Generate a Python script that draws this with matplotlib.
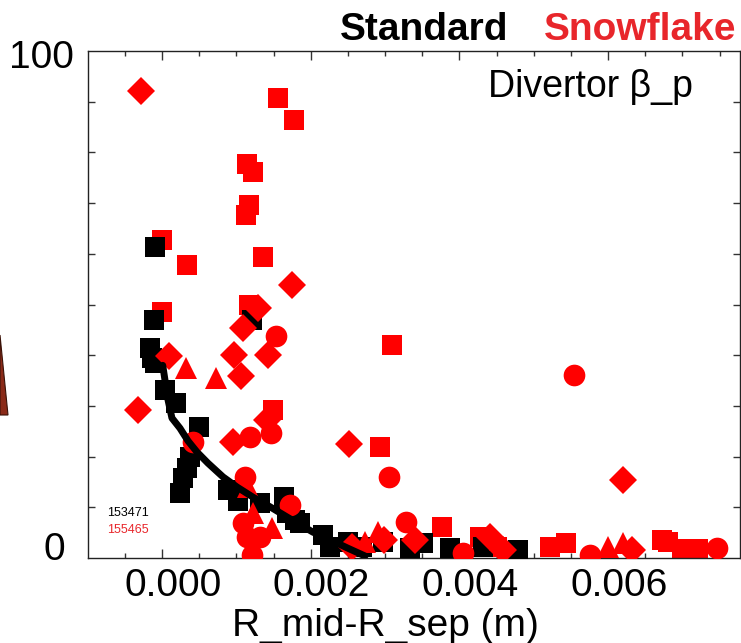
import numpy as np
import matplotlib
matplotlib.use('Agg')
import matplotlib.pyplot as plt
import matplotlib.transforms as mtransforms
from matplotlib.ticker import MultipleLocator, FixedLocator
from matplotlib.patches import Polygon

plt.rcParams['font.family'] = ['Liberation Sans', 'DejaVu Sans']

# Standard divertor (shot 153471)
std_x = [-0.000094, -0.000108, -0.000161, -0.000134, -0.000094, 0.00004, 0.000188, 0.000498,
         0.000377, 0.000336, 0.000282, 0.000242, 0.000888, 0.001022, 0.001318, 0.00121,
         0.00164, 0.00168, 0.00179, 0.001856, 0.002165, 0.00226, 0.0025, 0.00269, 0.00297,
         0.00334, 0.00351, 0.00387, 0.00432, 0.00479]
std_y = [61.3, 46.9, 41.4, 39.4, 38.5, 33.1, 30.6, 25.8,
         19.9, 17.8, 15.8, 12.8, 13.4, 11.2, 10.8, 46.9,
         12.0, 8.9, 7.5, 6.9, 4.5, 2.2, 3.2, 2.2, 3.2,
         2.0, 3.0, 2.0, 2.2, 1.6]

# fit through the standard points
fit_x = [0.00001, 0.000081, 0.000134, 0.000242, 0.00035, 0.000471, 0.000619, 0.00082, 0.001009,
         0.001224, 0.001453, 0.00168, 0.00203, 0.00226, 0.00249, 0.00273]
fit_y = [38.0, 31.2, 27.6, 25.6, 23.1, 20.9, 18.7, 16.0, 14.0,
         12.0, 10.1, 8.1, 5.1, 3.6, 2.0, 0.4]

# Snowflake divertor (shot 155465), one marker per time slice group
sf_sq_x = [0.00156, 0.001775, 0.001143, 0.001224, 0.00117, 0.00113, 0.0, 0.000336, 0.001358,
           0.0, 0.00117, 0.00309, 0.00149, 0.00293, 0.003766, 0.00428, 0.0045, 0.00522,
           0.00543, 0.00672, 0.0068, 0.007, 0.00721]
sf_sq_y = [90.7, 86.4, 77.7, 76.1, 69.6, 67.7, 62.7, 57.8, 59.4,
           48.5, 49.9, 42.0, 29.2, 21.9, 6.1, 4.1, 2.2, 2.2,
           3.0, 3.6, 3.2, 1.8, 1.8]

sf_dia_x = [-0.00028, -0.00032, 0.000094, 0.00175, 0.00129, 0.00109, 0.00097, 0.00106, 0.00143,
            0.00141, 0.00095, 0.00252, 0.0062, 0.00256, 0.00299, 0.0034, 0.00441, 0.00459, 0.00632]
sf_dia_y = [92.1, 29.2, 39.8, 53.8, 49.3, 45.4, 40.0, 35.9, 40.0,
            27.2, 22.9, 22.5, 15.4, 2.2, 3.6, 3.6, 4.1, 1.6, 1.6]

sf_circ_x = [0.00153, 0.00554, 0.000417, 0.00118, 0.00147, 0.00305, 0.00112, 0.00172, 0.00109,
             0.00114, 0.00121, 0.00132, 0.00328, 0.00405, 0.00576, 0.00746]
sf_circ_y = [43.8, 36.1, 22.9, 23.9, 24.7, 16.0, 16.0, 10.5, 6.9,
             4.1, 0.6, 4.1, 7.1, 1.0, 0.6, 2.0]

sf_tri_x = [0.000323, 0.000726, 0.00116, 0.00122, 0.00148, 0.00273, 0.00291, 0.006, 0.0062]
sf_tri_y = [37.5, 35.5, 14.0, 8.9, 5.9, 3.2, 5.1, 2.2, 3.0]

red = '#ff0000'
label_red = '#e8262b'

fig = plt.figure(figsize=(7.41, 6.43), dpi=100)
ax = fig.add_axes([88 / 741, 1 - 558 / 643, 652 / 741, 507 / 643])

ax.plot(sf_sq_x, sf_sq_y, 's', color=red, ms=14.4, mew=0, zorder=2)
ax.plot(std_x, std_y, 's', color='black', ms=14.4, mew=0, zorder=3)
ax.plot(sf_dia_x, sf_dia_y, 'D', color=red, ms=14.3, mew=0, zorder=4)
ax.plot(sf_circ_x, sf_circ_y, 'o', color=red, ms=15.6, mew=0, zorder=4)
ax.plot(sf_tri_x, sf_tri_y, '^', color=red, ms=15.5, mew=0, zorder=4)
ax.plot(fit_x, fit_y, '-', color='black', lw=5, solid_capstyle='round', solid_joinstyle='round', zorder=5)

ax.set_xlim(-0.000995, 0.007774)
ax.set_ylim(0, 100)

ax.xaxis.set_major_locator(FixedLocator([0.0, 0.002, 0.004, 0.006]))
ax.xaxis.set_minor_locator(MultipleLocator(0.0005))
ax.set_xticklabels(['0.000', '0.002', '0.004', '0.006'])
ax.yaxis.set_major_locator(FixedLocator([0, 100]))
ax.yaxis.set_minor_locator(MultipleLocator(10))
ax.set_yticklabels(['0', '100'])

ax.tick_params(axis='x', which='major', direction='in', length=6.5, width=1, top=True,
               labelsize=28, pad=7, color='#333333')
ax.tick_params(axis='x', which='minor', direction='in', length=3.3, width=1, top=True, color='#333333')
ax.tick_params(axis='y', which='major', direction='in', length=0, right=True, labelsize=28, pad=10)
ax.tick_params(axis='y', which='minor', direction='in', length=5, width=1, right=True, color='#333333')
for s in ax.spines.values():
    s.set_linewidth(1)
    s.set_color('#222222')


def shift(lbl, dx, dy):
    lbl.set_transform(lbl.get_transform() + mtransforms.ScaledTranslation(dx / 100, dy / 100, fig.dpi_scale_trans))


for lbl in ax.get_xticklabels():
    shift(lbl, 11, 0)
ylbls = ax.get_yticklabels()
shift(ylbls[0], -9, 12.5)
shift(ylbls[1], 0, -3)

ax.set_xlabel('R_mid-R_sep (m)', fontsize=28)
ax.xaxis.set_label_coords(0.4555, -0.098)

fig.text(340 / 741, 1 - 40 / 643, 'Standard', fontsize=28, fontweight='bold', color='black', va='baseline')
fig.text(544 / 741, 1 - 40 / 643, 'Snowflake', fontsize=28, fontweight='bold', color=label_red, va='baseline')
fig.text(488 / 741, 1 - 97 / 643, 'Divertor β_p', fontsize=27, va='baseline')
fig.text(107 / 741, 1 - 516 / 643, '153471', fontsize=9, color='black', va='baseline')
fig.text(107 / 741, 1 - 533 / 643, '155465', fontsize=9, color=label_red, va='baseline')

# bit of a neighbouring panel cut off at the left edge
fig.patches.append(Polygon([[0, 1 - 335 / 643], [8 / 741, 1 - 415 / 643], [0, 1 - 415 / 643]],
                           closed=True, transform=fig.transFigure, facecolor='#8a2a18',
                           edgecolor='#3a1208', lw=0.8))

fig.savefig('out.png', dpi=100)
